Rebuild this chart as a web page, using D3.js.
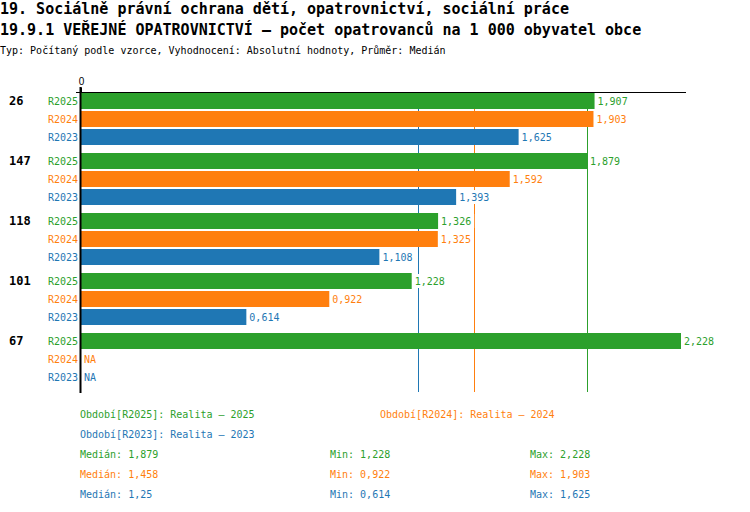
<!DOCTYPE html>
<html>
<head>
<meta charset="utf-8">
<script src="https://cdn.jsdelivr.net/npm/d3@7"></script>
<style>
  body { margin: 0; background: #fff; }
  svg { display: block; font-family: "DejaVu Sans Mono", "Liberation Mono", monospace; }
</style>
</head>
<body>
<div id="chart"></div>
<script>
const categories = ['26', '147', '118', '101', '67'];
const series = ['R2025', 'R2024', 'R2023'];
const r2025 = [1.907, 1.879, 1.326, 1.228, 2.228];
const r2024 = [1.903, 1.592, 1.325, 0.922, null];
const r2023 = [1.625, 1.393, 1.108, 0.614, null];
const seriesColors = ['#2ca02c', '#ff7f0e', '#1f77b4'];
const legendNames = ['Období[R2025]: Realita – 2025', 'Období[R2024]: Realita – 2024', 'Období[R2023]: Realita – 2023'];
const medians = [1.879, 1.458, 1.25];
const mins = [1.228, 0.922, 0.614];
const maxs = [2.228, 1.903, 1.625];

const values = [r2025, r2024, r2023];
const fmt = v => String(v).replace('.', ',');

const width = 750, height = 512;
const svg = d3.select('#chart').append('svg')
    .attr('width', width)
    .attr('height', height);

// titles
svg.append('text').attr('x', 0).attr('y', 14)
    .attr('font-size', 15).attr('font-weight', 'bold')
    .text('19. Sociálně právní ochrana dětí, opatrovnictví, sociální práce');
svg.append('text').attr('x', 0).attr('y', 35)
    .attr('font-size', 15).attr('font-weight', 'bold')
    .text('19.9.1 VEŘEJNÉ OPATROVNICTVÍ – počet opatrovanců na 1 000 obyvatel obce');
svg.append('text').attr('x', 0).attr('y', 54)
    .attr('font-size', 10)
    .text('Typ: Počítaný podle vzorce, Vyhodnocení: Absolutní hodnoty, Průměr: Medián');

const x = d3.scaleLinear().domain([0, 2.228]).range([81, 681]);
const y0 = d3.scaleBand().domain(categories).range([93, 393]);
const y1 = d3.scaleBand().domain(series).range([0, 52]).paddingInner(2 / 18);
const color = d3.scaleOrdinal().domain(series).range(seriesColors);

// median lines (behind bars)
svg.append('g').selectAll('line')
    .data(series)
    .join('line')
    .attr('x1', (s, i) => Math.round(x(medians[i])) + 0.5)
    .attr('x2', (s, i) => Math.round(x(medians[i])) + 0.5)
    .attr('y1', 92)
    .attr('y2', 392)
    .attr('stroke', s => color(s))
    .attr('stroke-width', 1);

const rows = [];
categories.forEach((c, ci) => {
    series.forEach((s, si) => {
        rows.push({ cat: c, series: s, value: values[si][ci], first: si === 0 });
    });
});

const rowY = d => y0(d.cat) + y1(d.series);

// bars
svg.append('g').selectAll('rect')
    .data(rows.filter(d => d.value != null))
    .join('rect')
    .attr('x', x(0))
    .attr('y', rowY)
    .attr('width', d => x(d.value) - x(0))
    .attr('height', y1.bandwidth())
    .attr('fill', d => color(d.series));

// value labels with white background
const labels = svg.append('g').attr('font-size', 10);
rows.forEach(d => {
    const txt = d.value == null ? 'NA' : fmt(d.value);
    const lx = d.value == null ? x(0) + 3 : x(d.value) + 3;
    const ly = rowY(d) + y1.bandwidth() / 2;
    const w = txt.length * 6.02 + 4;
    labels.append('rect')
        .attr('x', lx - 1).attr('y', ly - 7)
        .attr('width', w).attr('height', 14)
        .attr('fill', '#fff');
    labels.append('text')
        .attr('x', lx).attr('y', ly)
        .attr('dy', '0.35em')
        .attr('fill', color(d.series))
        .text(txt);
});

// series labels
svg.append('g').attr('font-size', 10).attr('text-anchor', 'end')
    .selectAll('text')
    .data(rows)
    .join('text')
    .attr('x', 78)
    .attr('y', d => rowY(d) + y1.bandwidth() / 2)
    .attr('dy', '0.35em')
    .attr('fill', d => color(d.series))
    .text(d => d.series);

// category labels
svg.append('g').attr('font-size', 12).attr('font-weight', 'bold')
    .selectAll('text')
    .data(categories)
    .join('text')
    .attr('x', 9)
    .attr('y', c => y0(c) + y1('R2025') + y1.bandwidth() / 2)
    .attr('dy', '0.35em')
    .text(c => c);

// top axis
const axis = svg.append('g')
    .attr('transform', 'translate(0,92.5)')
    .call(d3.axisTop(x).tickValues([0]).tickSize(5).tickSizeOuter(0).tickFormat(d3.format('d')));
axis.select('.domain').attr('d', 'M76,0H686').attr('stroke', '#000');
axis.selectAll('.tick text').attr('font-family', null).attr('font-size', 10).attr('fill', '#000');
axis.selectAll('.tick line').attr('stroke', '#000');

// vertical zero axis
svg.append('line')
    .attr('x1', x(0) - 0.5).attr('x2', x(0) - 0.5)
    .attr('y1', 87).attr('y2', 393)
    .attr('stroke', '#000').attr('stroke-width', 2);

// legend
const legend = svg.append('g').attr('font-size', 10);
const legendPos = [[80, 414], [380, 414], [80, 434]];
legendNames.forEach((n, i) => {
    legend.append('text')
        .attr('x', legendPos[i][0]).attr('y', legendPos[i][1])
        .attr('dy', '0.35em')
        .attr('fill', seriesColors[i])
        .text(n);
});
series.forEach((s, i) => {
    const yy = 454 + i * 20;
    [[80, 'Medián: ' + fmt(medians[i])], [330, 'Min: ' + fmt(mins[i])], [530, 'Max: ' + fmt(maxs[i])]]
        .forEach(([lx, t]) => {
            legend.append('text')
                .attr('x', lx).attr('y', yy)
                .attr('dy', '0.35em')
                .attr('fill', seriesColors[i])
                .text(t);
        });
});
</script>
</body>
</html>
